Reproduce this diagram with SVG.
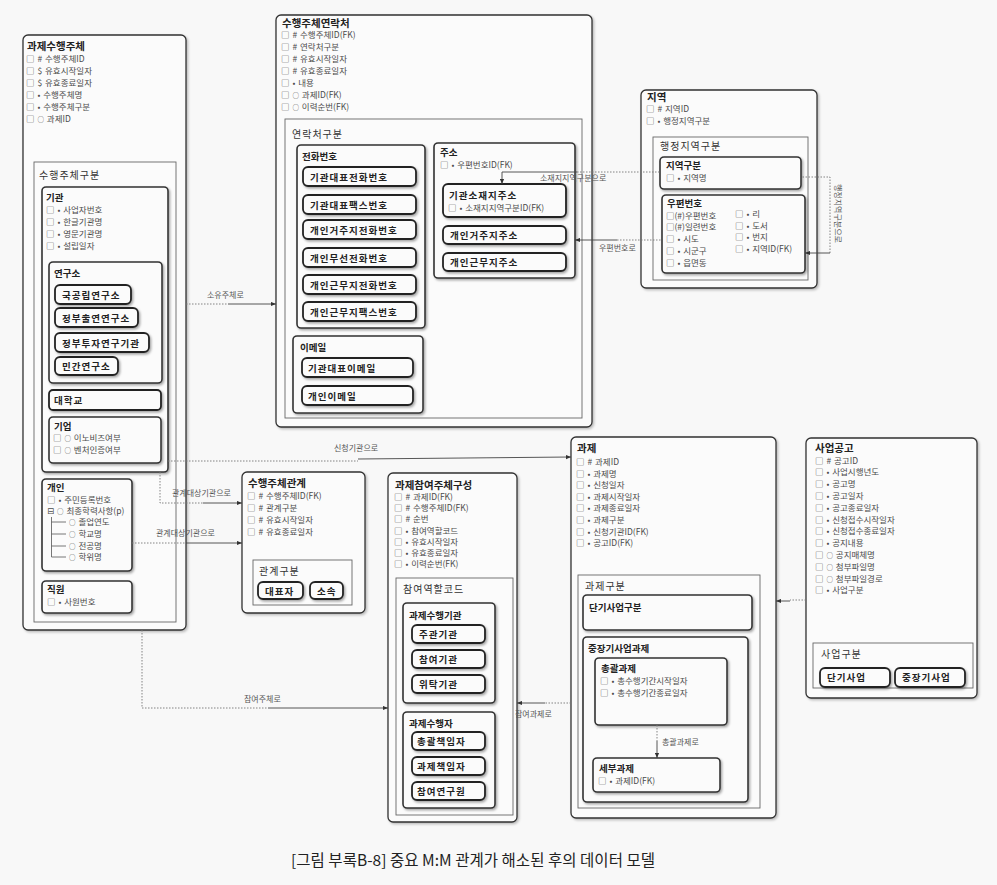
<svg xmlns="http://www.w3.org/2000/svg" width="997" height="885" viewBox="0 0 997 885">
<defs>
<filter id="sh" x="-10%" y="-10%" width="130%" height="140%"><feDropShadow dx="1.4" dy="1.6" stdDeviation="0.8" flood-color="#000" flood-opacity="0.35"/></filter>
<filter id="shl" x="-5%" y="-5%" width="110%" height="110%"><feDropShadow dx="1.5" dy="1.5" stdDeviation="1" flood-color="#000" flood-opacity="0.25"/></filter>
<marker id="ar" viewBox="0 0 6 6" refX="6" refY="3" markerWidth="5" markerHeight="5" markerUnits="userSpaceOnUse" orient="auto"><path d="M0,0.5 L6,3 L0,5.5z" fill="#333"/></marker>
<style>
text{font-family:"Noto Sans CJK KR","Noto Sans","DejaVu Sans",sans-serif}
.ent{fill:#fbfbfb;stroke:#333;stroke-width:1.3;filter:url(#shl)}
.cat{fill:none;stroke:#666;stroke-width:0.9}
.sub{fill:#fbfbfb;stroke:#333;stroke-width:1.6;filter:url(#sh)}
.val{fill:#fbfbfb;stroke:#222;stroke-width:1.8;filter:url(#sh)}
.t1{font-size:10.5px;font-weight:700;fill:#222}
.t2{font-size:9.5px;font-weight:700;fill:#222}
.tv{font-size:9.5px;font-weight:700;fill:#222;letter-spacing:1px}
.tc{font-size:10px;fill:#333;letter-spacing:1px}
.a{font-size:8.5px;fill:#4a4a4a;word-spacing:1px}
.o{font-size:6.5px}
.cl{font-size:8px;fill:#555}
.ls{fill:none;stroke:#444;stroke-width:0.9}
.ld{fill:none;stroke:#777;stroke-width:0.9;stroke-dasharray:1.5 1.5}
.tr{fill:none;stroke:#555;stroke-width:0.8}
.cap{font-size:15.5px;fill:#222}
</style>
</defs>
<rect x="0" y="0" width="997" height="885" fill="#f8f8f8"/>

<g id="n-performer">
<rect class="ent" x="23" y="35" width="163" height="595" rx="5"/>
<text class="t1" x="27" y="50">과제수행주체</text>
<text class="a" x="26" y="61.5">□ # 수행주체ID</text>
<text class="a" x="26" y="73.5">□ $ 유효시작일자</text>
<text class="a" x="26" y="85.5">□ $ 유효종료일자</text>
<text class="a" x="26" y="97.5">□ • 수행주체명</text>
<text class="a" x="26" y="109.5">□ • 수행주체구분</text>
<text class="a" x="26" y="121.5">□ <tspan class="o">○</tspan> 과제ID</text>
<rect class="cat" x="34" y="162" width="142" height="460"/>
<text class="tc" x="39" y="179">수행주체구분</text>
<g id="n-institution">
<rect class="sub" x="42" y="187" width="126" height="285" rx="4"/>
<text class="t2" x="46" y="201">기관</text>
<text class="a" x="46" y="213">□ • 사업자번호</text>
<text class="a" x="46" y="225">□ • 한글기관명</text>
<text class="a" x="46" y="237">□ • 영문기관명</text>
<text class="a" x="46" y="249">□ • 설립일자</text>
<g id="n-lab">
<rect class="sub" x="49" y="262" width="113" height="121" rx="4"/>
<text class="t2" x="54" y="277">연구소</text>
<rect class="val" x="55" y="285" width="76" height="19" rx="5"/>
<text class="tv" x="62" y="298.5">국공립연구소</text>
<rect class="val" x="55" y="308" width="83" height="19" rx="5"/>
<text class="tv" x="62" y="321.5">정부출연연구소</text>
<rect class="val" x="55" y="333" width="94" height="19" rx="5"/>
<text class="tv" x="62" y="346.5">정부투자연구기관</text>
<rect class="val" x="55" y="357" width="63" height="18" rx="5"/>
<text class="tv" x="62" y="369.5">민간연구소</text>
</g>
<g id="n-univ">
<rect class="val" x="49" y="390" width="112" height="20" rx="4"/>
<text class="tv" x="54" y="404">대학교</text>
</g>
<g id="n-company">
<rect class="sub" x="49" y="417" width="112" height="46" rx="4"/>
<text class="t2" x="54" y="429.5">기업</text>
<text class="a" x="53" y="441">□ <tspan class="o">○</tspan> 이노비즈여부</text>
<text class="a" x="53" y="453">□ <tspan class="o">○</tspan> 벤처인증여부</text>
</g>
</g>
<g id="n-person">
<rect class="sub" x="42" y="479" width="90" height="92" rx="4"/>
<text class="t2" x="47" y="491">개인</text>
<text class="a" x="47" y="502.5">□ • 주민등록번호</text>
<text class="a" x="47" y="514">⊟ <tspan class="o">○</tspan> 최종학력사항(p)</text>
<path class="tr" d="M51.5,517 V557 M51.5,522 H66 M51.5,534 H66 M51.5,546 H66 M51.5,557 H66"/>
<text class="a" x="69" y="525"><tspan class="o">○</tspan> 졸업연도</text>
<text class="a" x="69" y="537"><tspan class="o">○</tspan> 학교명</text>
<text class="a" x="69" y="549"><tspan class="o">○</tspan> 전공명</text>
<text class="a" x="69" y="560"><tspan class="o">○</tspan> 학위명</text>
</g>
<g id="n-staff">
<rect class="sub" x="42" y="581" width="90" height="32" rx="4"/>
<text class="t2" x="47" y="593">직원</text>
<text class="a" x="47" y="605">□ • 사원번호</text>
</g>
</g>

<g id="n-contact">
<rect class="ent" x="276" y="15" width="316" height="412" rx="5"/>
<text class="t1" x="282" y="26.5">수행주체연락처</text>
<text class="a" x="281" y="38">□ # 수행주체ID(FK)</text>
<text class="a" x="281" y="50">□ # 연락처구분</text>
<text class="a" x="281" y="62">□ # 유효시작일자</text>
<text class="a" x="281" y="74">□ # 유효종료일자</text>
<text class="a" x="281" y="86">□ • 내용</text>
<text class="a" x="281" y="98">□ <tspan class="o">○</tspan> 과제ID(FK)</text>
<text class="a" x="281" y="110">□ <tspan class="o">○</tspan> 이력순번(FK)</text>
<rect class="cat" x="285" y="119" width="297" height="299"/>
<text class="tc" x="292" y="138">연락처구분</text>
<g id="n-phone">
<rect class="sub" x="297" y="145" width="128" height="183" rx="4"/>
<text class="t2" x="302" y="160">전화번호</text>
<rect class="val" x="303" y="167" width="113" height="19" rx="5"/>
<text class="tv" x="310" y="180.5">기관대표전화번호</text>
<rect class="val" x="303" y="195" width="113" height="19" rx="5"/>
<text class="tv" x="310" y="208.5">기관대표팩스번호</text>
<rect class="val" x="303" y="220" width="113" height="19" rx="5"/>
<text class="tv" x="310" y="233.5">개인거주지전화번호</text>
<rect class="val" x="303" y="248" width="113" height="19" rx="5"/>
<text class="tv" x="310" y="261.5">개인무선전화번호</text>
<rect class="val" x="303" y="275" width="113" height="19" rx="5"/>
<text class="tv" x="310" y="288.5">개인근무지전화번호</text>
<rect class="val" x="303" y="302" width="113" height="19" rx="5"/>
<text class="tv" x="310" y="315.5">개인근무지팩스번호</text>
</g>
<g id="n-email">
<rect class="sub" x="293" y="336" width="130" height="77" rx="4"/>
<text class="t2" x="300" y="351">이메일</text>
<rect class="val" x="302" y="358" width="111" height="19" rx="5"/>
<text class="tv" x="308" y="371.5">기관대표이메일</text>
<rect class="val" x="302" y="386" width="111" height="19" rx="5"/>
<text class="tv" x="308" y="399.5">개인이메일</text>
</g>
<g id="n-address">
<rect class="sub" x="434" y="143" width="141" height="135" rx="4"/>
<text class="t2" x="440" y="155.5">주소</text>
<text class="a" x="440" y="167.5">□ • 우편번호ID(FK)</text>
<rect class="val" x="443" y="184" width="123" height="33" rx="5"/>
<text class="tv" x="449" y="198.5">기관소재지주소</text>
<text class="a" x="448" y="211">□ • 소재지지역구분ID(FK)</text>
<rect class="val" x="443" y="226" width="123" height="18" rx="5"/>
<text class="tv" x="450" y="239">개인거주지주소</text>
<rect class="val" x="443" y="253" width="123" height="18" rx="5"/>
<text class="tv" x="450" y="266">개인근무지주소</text>
</g>
</g>

<g id="n-region">
<rect class="ent" x="641" y="90" width="176" height="198" rx="5"/>
<text class="t1" x="647" y="100.5">지역</text>
<text class="a" x="646" y="112">□ # 지역ID</text>
<text class="a" x="646" y="124">□ • 행정지역구분</text>
<rect class="cat" x="653" y="137" width="155" height="143"/>
<text class="tc" x="660" y="149.5">행정지역구분</text>
<rect class="sub" x="660" y="157" width="141" height="32" rx="4"/>
<text class="t2" x="666" y="168.5">지역구분</text>
<text class="a" x="666" y="180.5">□ • 지역명</text>
<rect class="sub" x="662" y="195" width="143" height="78" rx="4"/>
<text class="t2" x="667" y="206.5">우편번호</text>
<text class="a" x="666" y="218.5">□(#)우편번호</text>
<text class="a" x="666" y="230">□(#)일련번호</text>
<text class="a" x="666" y="241.5">□ • 시도</text>
<text class="a" x="666" y="253.5">□ • 시군구</text>
<text class="a" x="666" y="265.5">□ • 읍면동</text>
<text class="a" x="735" y="216.5">□ • 리</text>
<text class="a" x="735" y="228.5">□ • 도서</text>
<text class="a" x="735" y="240">□ • 번지</text>
<text class="a" x="735" y="251.5">□ • 지역ID(FK)</text>
</g>

<g id="n-relation">
<rect class="ent" x="242" y="472" width="123" height="141" rx="5"/>
<text class="t1" x="248" y="487">수행주체관계</text>
<text class="a" x="247" y="498.5">□ # 수행주체ID(FK)</text>
<text class="a" x="247" y="510.5">□ # 관계구분</text>
<text class="a" x="247" y="522.5">□ # 유효시작일자</text>
<text class="a" x="247" y="534.5">□ # 유효종료일자</text>
<rect class="cat" x="253" y="560" width="99" height="45"/>
<text class="tc" x="259" y="575">관계구분</text>
<rect class="val" x="258" y="582" width="45" height="17" rx="5"/>
<text class="tv" x="265" y="594.5">대표자</text>
<rect class="val" x="310" y="582" width="33" height="17" rx="5"/>
<text class="tv" x="317" y="594.5">소속</text>
</g>

<g id="n-participation">
<rect class="ent" x="388" y="473" width="129" height="349" rx="5"/>
<text class="t1" x="395" y="488.5">과제참여주체구성</text>
<text class="a" x="394" y="500">□ # 과제ID(FK)</text>
<text class="a" x="394" y="511.2">□ # 수행주체ID(FK)</text>
<text class="a" x="394" y="522.4">□ # 순번</text>
<text class="a" x="394" y="533.6">□ • 참여역할코드</text>
<text class="a" x="394" y="544.8">□ • 유효시작일자</text>
<text class="a" x="394" y="556">□ • 유효종료일자</text>
<text class="a" x="394" y="567.2">□ • 이력순번(FK)</text>
<rect class="cat" x="396" y="578" width="117" height="237"/>
<text class="tc" x="403" y="593">참여역할코드</text>
<rect class="sub" x="403" y="603" width="92" height="100" rx="4"/>
<text class="t2" x="409" y="618.5">과제수행기관</text>
<rect class="val" x="412" y="625" width="73" height="18" rx="5"/>
<text class="tv" x="419" y="638">주관기관</text>
<rect class="val" x="412" y="650" width="73" height="18" rx="5"/>
<text class="tv" x="419" y="663">참여기관</text>
<rect class="val" x="412" y="675" width="73" height="18" rx="5"/>
<text class="tv" x="419" y="688">위탁기관</text>
<rect class="sub" x="403" y="712" width="92" height="96" rx="4"/>
<text class="t2" x="409" y="726.5">과제수행자</text>
<rect class="val" x="412" y="732" width="73" height="18" rx="5"/>
<text class="tv" x="417" y="745">총괄책임자</text>
<rect class="val" x="412" y="757" width="73" height="18" rx="5"/>
<text class="tv" x="417" y="770">과제책임자</text>
<rect class="val" x="412" y="782" width="73" height="18" rx="5"/>
<text class="tv" x="417" y="795">참여연구원</text>
</g>

<g id="n-project">
<rect class="ent" x="571" y="437" width="205" height="381" rx="5"/>
<text class="t1" x="577" y="451.5">과제</text>
<text class="a" x="576" y="465">□ # 과제ID</text>
<text class="a" x="576" y="476.6">□ • 과제명</text>
<text class="a" x="576" y="488.2">□ • 신청일자</text>
<text class="a" x="576" y="499.8">□ • 과제시작일자</text>
<text class="a" x="576" y="511.4">□ • 과제종료일자</text>
<text class="a" x="576" y="523">□ • 과제구분</text>
<text class="a" x="576" y="534.6">□ • 신청기관ID(FK)</text>
<text class="a" x="576" y="546.2">□ • 공고ID(FK)</text>
<rect class="cat" x="578" y="575" width="182" height="233"/>
<text class="tc" x="585" y="590">과제구분</text>
<rect class="sub" x="583" y="595" width="169" height="35" rx="4"/>
<text class="t2" x="589" y="610.5">단기사업구분</text>
<rect class="sub" x="583" y="637" width="165" height="165" rx="4"/>
<text class="t2" x="588" y="651.5">중장기사업과제</text>
<rect class="sub" x="595" y="658" width="132" height="67" rx="4"/>
<text class="t2" x="601" y="671.5">총괄과제</text>
<text class="a" x="600" y="683.5">□ • 총수행기간시작일자</text>
<text class="a" x="600" y="695.5">□ • 총수행기간종료일자</text>
<rect class="sub" x="593" y="758" width="127" height="34" rx="4"/>
<text class="t2" x="599" y="771.5">세부과제</text>
<text class="a" x="598" y="783.5">□ • 과제ID(FK)</text>
</g>

<g id="n-notice">
<rect class="ent" x="806" y="438" width="171" height="260" rx="5"/>
<text class="t1" x="815" y="452">사업공고</text>
<text class="a" x="815" y="463.5">□ # 공고ID</text>
<text class="a" x="815" y="475.3">□ • 사업시행년도</text>
<text class="a" x="815" y="487.1">□ • 공고명</text>
<text class="a" x="815" y="498.9">□ • 공고일자</text>
<text class="a" x="815" y="510.7">□ • 공고종료일자</text>
<text class="a" x="815" y="522.5">□ • 신청접수시작일자</text>
<text class="a" x="815" y="534.3">□ • 신청접수종료일자</text>
<text class="a" x="815" y="546.1">□ • 공지내용</text>
<text class="a" x="815" y="557.9">□ <tspan class="o">○</tspan> 공지매체명</text>
<text class="a" x="815" y="569.7">□ <tspan class="o">○</tspan> 첨부파일명</text>
<text class="a" x="815" y="581.5">□ <tspan class="o">○</tspan> 첨부파일경로</text>
<text class="a" x="815" y="593.3">□ • 사업구분</text>
<rect class="cat" x="813" y="643" width="160" height="45"/>
<text class="tc" x="821" y="658">사업구분</text>
<rect class="val" x="820" y="668" width="70" height="19" rx="5"/>
<text class="tv" x="827" y="681">단기사업</text>
<rect class="val" x="895" y="668" width="70" height="19" rx="5"/>
<text class="tv" x="902" y="681">중장기사업</text>
</g>

<g id="connectors">
<path class="ld" d="M186,304 H228"/>
<path class="ls" d="M228,304 H276" marker-end="url(#ar)"/>
<text class="cl" x="207" y="298">소유주체로</text>
<path class="ld" d="M168,461 H358"/>
<path class="ls" d="M358,459 L571,457" marker-end="url(#ar)"/>
<text class="cl" x="334" y="451">신청기관으로</text>
<path class="ld" d="M160,472 V503 H203"/>
<path class="ls" d="M203,503 H242" marker-end="url(#ar)"/>
<text class="cl" x="172" y="496">관계대상기관으로</text>
<path class="ld" d="M132,543 H186"/>
<path class="ls" d="M186,543 H242" marker-end="url(#ar)"/>
<text class="cl" x="156" y="536">관계대상기관으로</text>
<path class="ld" d="M142,630 V708 H268"/>
<path class="ls" d="M268,708 H388" marker-end="url(#ar)"/>
<text class="cl" x="244" y="702">참여주체로</text>
<path class="ld" d="M571,703 H545"/>
<path class="ls" d="M545,703 H517" marker-end="url(#ar)"/>
<text class="cl" x="515" y="716.5">참여과제로</text>
<path class="ld" d="M577,172 H660"/>
<path class="ls" d="M577,172 H502 V184" marker-end="url(#ar)"/>
<text class="cl" x="540" y="180.5">소재지지역구분으로</text>
<path class="ld" d="M617,240 H662"/>
<path class="ls" d="M617,240 H575" marker-end="url(#ar)"/>
<text class="cl" x="599" y="251">우편번호로</text>
<path class="ld" d="M830,253 V177 H801"/>
<path class="ls" d="M830,253 H805" marker-end="url(#ar)"/>
<text class="cl" transform="translate(834.5,184) rotate(90)">행정지역구분으로</text>
<path class="ld" d="M657,725 V741"/>
<path class="ls" d="M657,741 V758" marker-end="url(#ar)"/>
<text class="cl" x="662" y="745">총괄과제로</text>
<path class="ld" d="M806,600 H790"/>
<path class="ls" d="M790,601 H776" marker-end="url(#ar)"/>
</g>

<text class="cap" x="291" y="866" textLength="364" lengthAdjust="spacing">[그림 부록B-8] 중요 M:M 관계가 해소된 후의 데이터 모델</text>
</svg>
